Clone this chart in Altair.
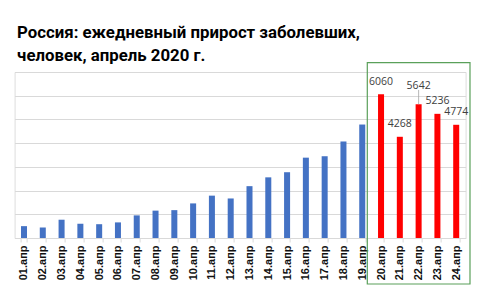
import altair as alt
import pandas as pd

days = ["01.апр", "02.апр", "03.апр", "04.апр", "05.апр", "06.апр", "07.апр", "08.апр",
        "09.апр", "10.апр", "11.апр", "12.апр", "13.апр", "14.апр", "15.апр", "16.апр",
        "17.апр", "18.апр", "19.апр", "20.апр", "21.апр", "22.апр", "23.апр", "24.апр"]
values = [500, 440, 771, 601, 582, 658, 954, 1154, 1175, 1459, 1786, 1667, 2186, 2558,
          2774, 3388, 3448, 4070, 4785, 6060, 4268, 5642, 5236, 4774]
highlight = ["20.апр", "21.апр", "22.апр", "23.апр", "24.апр"]
raised_label = ["22.апр"]
grid_values = [0, 1000, 2000, 3000, 4000, 5000, 6000, 7000]

df = pd.DataFrame({"day": days, "value": values})
df["hl"] = df["day"].isin(highlight)

FONT = "Open Sans"
TITLE_FONT = "Roboto"
W, H = 451, 166

x = alt.X("day:N", sort=days,
          scale=alt.Scale(paddingInner=0.68, paddingOuter=0.34),
          axis=alt.Axis(title=None, labelAngle=270, labelAlign="right", labelBaseline="middle",
                        labelFont="Liberation Sans", labelFontSize=11, labelFontWeight="bold",
                        labelColor="#111111", labelPadding=3, tickBand="extent",
                        tickColor="#d9d9d9", tickSize=4, domainColor="#d9d9d9", grid=False))
y = alt.Y("value:Q", scale=alt.Scale(domain=[0, 7000], nice=False, zero=True),
          axis=alt.Axis(title=None, labels=False, ticks=False, domain=False,
                        grid=True, gridColor="#d9d9d9", gridWidth=1, values=grid_values))

base = alt.Chart(df)

bars = base.mark_bar().encode(
    x=x, y=y,
    color=alt.Color("hl:N", scale=alt.Scale(domain=[False, True], range=["#4472C4", "#FF0000"]),
                    legend=None),
)

labels = base.transform_filter(
    alt.FieldOneOfPredicate(field="day", oneOf=[d for d in highlight if d not in raised_label])
).mark_text(font=FONT, fontSize=10.5, color="#404040", baseline="middle", dy=-12.5).encode(
    x=x, y=y, text=alt.Text("value:Q", format="d"))

raised = base.transform_filter(
    alt.FieldOneOfPredicate(field="day", oneOf=raised_label)
).mark_text(font=FONT, fontSize=10.5, color="#404040", baseline="middle", dy=-18.5).encode(
    x=x, y=y, text=alt.Text("value:Q", format="d"))

leader = base.transform_filter(
    alt.FieldOneOfPredicate(field="day", oneOf=raised_label)
).transform_calculate(top="datum.value + 600").mark_rule(color="#a6a6a6", strokeWidth=0.8).encode(
    x=x, y=y, y2="top:Q")

frame = alt.Chart(pd.DataFrame({"k": [0]})).mark_rect(
    fill=None, stroke="#5aa05a", strokeWidth=1.2, clip=False
).encode(x=alt.value(352.7), x2=alt.value(455.4), y=alt.value(-9.3), y2=alt.value(212))

chart = alt.layer(bars, labels, raised, leader, frame).properties(
    width=W, height=H,
    autosize=alt.AutoSizeParams(type="none"),
    padding={"left": 14.6, "top": 72, "right": 13.4, "bottom": 54},
    title=alt.TitleParams(
        text=["Россия: ежедневный прирост заболевших,", "человек, апрель 2020 г."],
        anchor="start", frame="group", font=TITLE_FONT, fontSize=16.8, fontWeight="bold",
        color="#000000", lineHeight=23.5, offset=-16, dx=2.5, baseline="alphabetic"),
).configure_view(stroke=None).configure(background="white")

chart.save("out.html", embed_options={"renderer": "svg", "actions": False})
